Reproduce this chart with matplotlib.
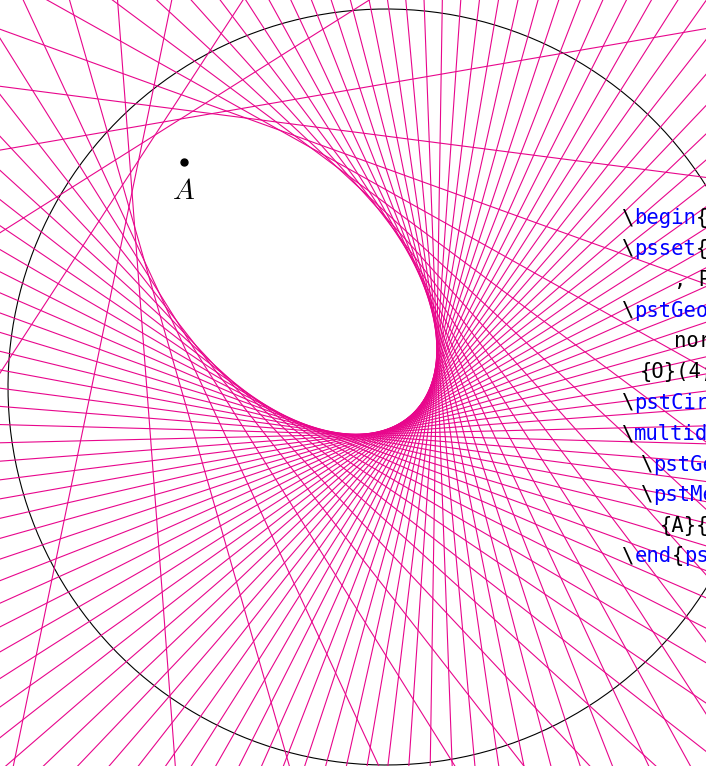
import numpy as np
import matplotlib.pyplot as plt

# geometry (units of the pspicture, circle radius 4)
R = 4.0
O = (0.0, 0.0)
A = (-2.14, 2.38)
n_lines = 72          # \multido step 5 degrees

# code listing on the right (cut by the picture border)
code_lines = [
    [("\\", "k"), ("begin", "b"), ("{", "k"), ("pspicture*", "b"), ("}(-4,-4)(4,4)", "k")],
    [("\\", "k"), ("psset", "b"), ("{PointSymbol=none", "k")],
    [(", PointName=none}", "k")],
    [("\\", "k"), ("pstGeonode", "b"), ("[PointSymbol=none,PointName=", "k")],
    [("normal](-2.14,2.38){A}", "k")],
    [("{O}(4;0){M}", "k")],
    [("\\", "k"), ("pstCircleOA", "b"), ("{O}{M}", "k")],
    [("\\", "k"), ("multido", "b"), ("{\\i=0+5}{72}{%", "k")],
    [("\\", "k"), ("pstGeonode", "b"), ("(4;\\i){M_\\i}", "k")],
    [("\\", "k"), ("pstMediatorAB", "b"), ("[PointSymbol=none]", "k")],
    [("{A}{M_\\i}{I}{J}}", "k")],
    [("\\", "k"), ("end", "b"), ("{", "k"), ("pspicture*", "b"), ("}", "k")],
]
code_x = [622, 622, 674, 622, 674, 640, 622, 622, 641, 641, 660, 622]
code_y = [218, 249, 280, 311, 341, 372, 403, 434, 465, 495, 526, 556]

W, H = 706, 766
scale = 94.5           # pixels per unit
cx, cy = 386, 387      # pixel position of O

fig = plt.figure(figsize=(W / 100, H / 100), dpi=100)
ax = fig.add_axes([0, 0, 1, 1])
ax.set_xlim(-cx / scale, (W - cx) / scale)
ax.set_ylim(-(H - cy) / scale, cy / scale)
ax.axis('off')

# code text, under the lines
fs = 14.8
pitch = 0.602 * fs * 100 / 72
colors = {"k": "black", "b": "#0000ff"}
for parts, x0, y0 in zip(code_lines, code_x, code_y):
    x = x0
    for txt, c in parts:
        fig.text(x / W, 1 - y0 / H, txt, family='DejaVu Sans Mono', fontsize=fs,
                 color=colors[c], va='center', ha='left', zorder=1)
        x += len(txt) * pitch

# circle
t = np.linspace(0, 2 * np.pi, 400)
ax.plot(O[0] + R * np.cos(t), O[1] + R * np.sin(t), color='black', lw=0.8, zorder=2)

# perpendicular bisectors of [AM]
ang = np.deg2rad(np.arange(n_lines) * 360.0 / n_lines)
for a in ang:
    mx, my = R * np.cos(a), R * np.sin(a)
    px, py = (A[0] + mx) / 2, (A[1] + my) / 2
    dx, dy = mx - A[0], my - A[1]
    nrm = np.hypot(dx, dy)
    ux, uy = -dy / nrm, dx / nrm
    L = 20
    ax.plot([px - L * ux, px + L * ux], [py - L * uy, py + L * uy],
            color='#e8068c', lw=0.8, zorder=3)

# point A
ax.plot(A[0], A[1], 'o', color='black', ms=5, zorder=4)
plt.rcParams['mathtext.fontset'] = 'cm'
ax.text(A[0], A[1] - 0.31, r'$A$', fontsize=21, ha='center', va='center', zorder=4)

fig.savefig('out.png', dpi=100)
